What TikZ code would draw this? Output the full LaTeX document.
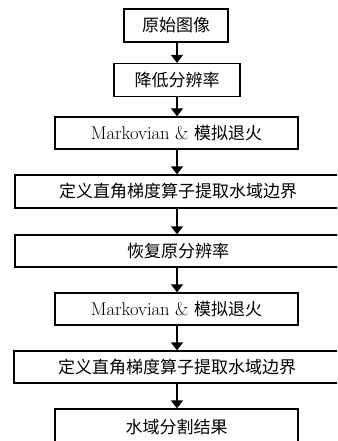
\documentclass[tikz,border=0pt]{standalone}
\usepackage{fontspec}
\newfontfamily\cjk{Noto Sans CJK SC}
\usetikzlibrary{arrows.meta}
\begin{document}
\begin{tikzpicture}[x=1pt,y=-1pt,
  box/.style={draw=black,line width=1.3pt,inner sep=0pt,minimum height=33pt,
    font=\fontsize{17}{20}\selectfont, fill=white},
  latin/.style={font=\fontsize{18.5}{20}\selectfont},
  arr/.style={line width=1.3pt,-{Triangle[width=12pt,length=8pt]}}]
\useasboundingbox (0,0) rectangle (337,441);
\clip (0,0) rectangle (337,441);
\fill[white] (0,0) rectangle (337,441);
\node[box,minimum width=104pt] (b1) at (176,25.5) {\cjk 原始图像};
\node[box,minimum width=126pt] (b2) at (177,80) {\cjk 降低分辨率};
\node[box,latin,minimum width=243pt,minimum height=32pt] (b3) at (176.5,133) {Markovian \& {\cjk\fontsize{17}{20}\selectfont 模拟退火}};
\node[box,minimum width=326pt] (b4) at (178,191.5) {\cjk 定义直角梯度算子提取水域边界};
\node[box,minimum width=326pt,minimum height=32pt] (b5) at (178,251) {\cjk 恢复原分辨率};
\node[box,latin,minimum width=243pt,minimum height=32pt] (b6) at (176.5,309) {Markovian \& {\cjk\fontsize{17}{20}\selectfont 模拟退火}};
\node[box,minimum width=326pt,minimum height=32pt] (b7) at (177,367) {\cjk 定义直角梯度算子提取水域边界};
\node[box,minimum width=243pt,minimum height=36pt] (b8) at (176.5,427) {\cjk 水域分割结果};
\draw[arr] (b1.south -| 177,0) -- (b2.north -| 177,0);
\draw[arr] (b2.south -| 177,0) -- (b3.north -| 177,0);
\draw[arr] (b3.south -| 177,0) -- (b4.north -| 177,0);
\draw[arr] (b4.south -| 177,0) -- (b5.north -| 177,0);
\draw[arr] (b5.south -| 177,0) -- (b6.north -| 177,0);
\draw[arr] (b6.south -| 177,0) -- (b7.north -| 177,0);
\draw[arr] (b7.south -| 177,0) -- (b8.north -| 177,0);
\end{tikzpicture}
\end{document}
